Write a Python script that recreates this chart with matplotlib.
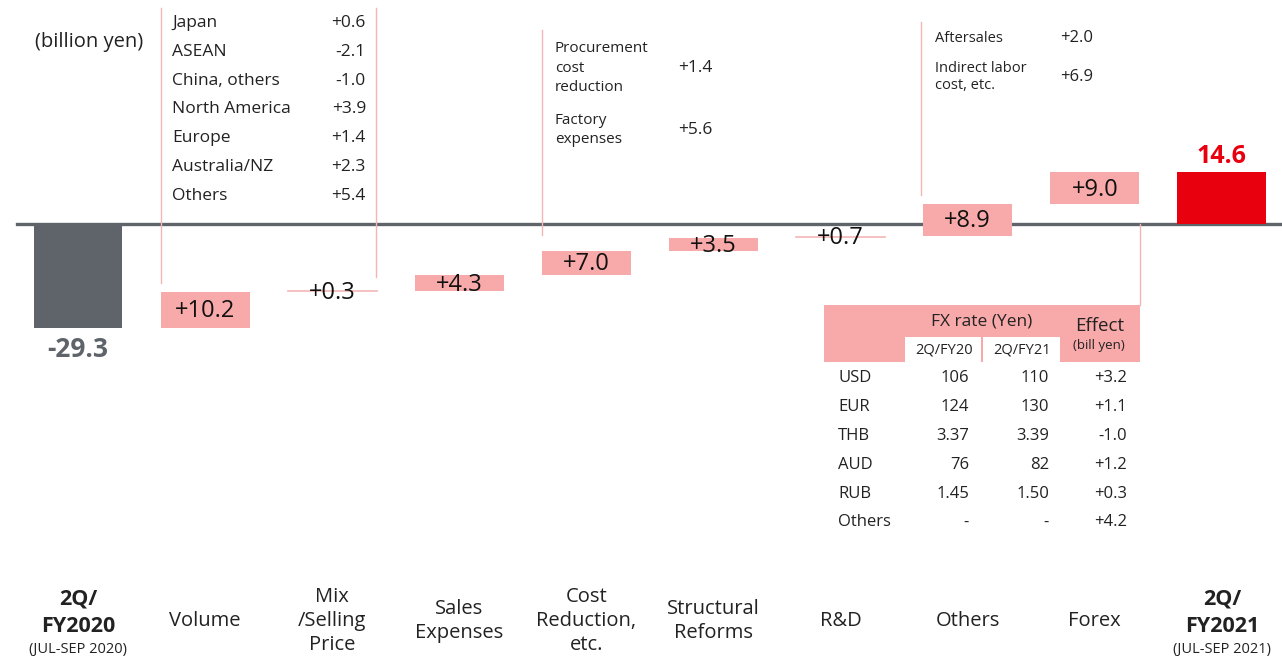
"""
Operating profit variance waterfall, 2Q/FY2020 -> 2Q/FY2021.
"""

import matplotlib
matplotlib.use("Agg")
import matplotlib.pyplot as plt
import numpy as np

plt.rcParams["font.family"] = ["Open Sans", "DejaVu Sans"]

# --- Data (billion yen) ---
START_VALUE = -29.3
END_VALUE = 14.6
STEP_NAMES = ["Volume", "Mix\n/Selling\nPrice", "Sales\nExpenses", "Cost\nReduction,\netc.",
              "Structural\nReforms", "R&D", "Others", "Forex"]
STEP_VALUES = [10.2, 0.3, 4.3, 7.0, 3.5, 0.7, 8.9, 9.0]

VOLUME_REGIONS = ["Japan", "ASEAN", "China, others", "North America", "Europe", "Australia/NZ", "Others"]
VOLUME_EFFECTS = ["+0.6", "-2.1", "-1.0", "+3.9", "+1.4", "+2.3", "+5.4"]

COST_ITEMS = ["Procurement\ncost\nreduction", "Factory\nexpenses"]
COST_EFFECTS = ["+1.4", "+5.6"]

OTHER_ITEMS = ["Aftersales", "Indirect labor\ncost, etc."]
OTHER_EFFECTS = ["+2.0", "+6.9"]

FX_CURRENCIES = ["USD", "EUR", "THB", "AUD", "RUB", "Others"]
FX_FY20 = ["106", "124", "3.37", "76", "1.45", "-"]
FX_FY21 = ["110", "130", "3.39", "82", "1.50", "-"]
FX_EFFECT = ["+3.2", "+1.1", "-1.0", "+1.2", "+0.3", "+4.2"]

# --- Style ---
W, H = 1282, 657
GRAY = "#5f646b"
PINK = "#f8a9a9"
LINE_PINK = "#f5b5b5"
RED = "#e8000f"
TXT = "#222222"

fig = plt.figure(figsize=(W / 100, H / 100), dpi=100)
ax = fig.add_axes([0, 0, 1, 1])
ax.set_axis_off()

# pixel layout: category i centred at 78 + 127.1*i px, zero at 224 px, 3.55 px per unit
PX_STEP, PX_X0, PX_Y0, PX_UNIT = 127.1, 78, 224, 3.55
ax.set_xlim(-PX_X0 / PX_STEP, (W - PX_X0) / PX_STEP)
ax.set_ylim(-(H - PX_Y0) / PX_UNIT, PX_Y0 / PX_UNIT)


def ftext(x, y, s, **kw):
    """Text at pixel position measured from the top-left corner."""
    kw.setdefault("color", TXT)
    return fig.text(x / W, 1 - y / H, s, **kw)


n = len(STEP_VALUES)
xs = np.arange(n + 2)
bw = 0.7

# zero line
ax.plot([ax.get_xlim()[0] + 17 / PX_STEP, ax.get_xlim()[1]], [0, 0], color=GRAY, lw=2.4, zorder=1)

# start / end bars
ax.bar(xs[0], START_VALUE, width=bw, color=GRAY, zorder=2)
ax.bar(xs[-1], END_VALUE, width=bw, color=RED, zorder=2)
ax.text(xs[0], START_VALUE - 2.2, f"{START_VALUE:.1f}", ha="center", va="top",
        fontsize=19, fontweight="bold", color=GRAY)
ax.text(xs[-1], END_VALUE + 1.0, f"{END_VALUE:.1f}", ha="center", va="bottom",
        fontsize=18, fontweight="bold", color=RED)

# floating steps
bottoms = START_VALUE + np.concatenate([[0], np.cumsum(STEP_VALUES)[:-1]])
for i, (b, v) in enumerate(zip(bottoms, STEP_VALUES)):
    x = xs[i + 1]
    if v < 1:
        ax.plot([x - bw / 2, x + bw / 2], [b + v / 2] * 2, color=LINE_PINK, lw=1.2, zorder=2)
    else:
        ax.bar(x, v, bottom=b, width=bw, color=PINK, zorder=2)
    ax.text(x, b + v / 2 - 0.4, f"+{v:.1f}", ha="center", va="center", fontsize=17,
            color="#111111", zorder=3)

# category labels
for cx, yr in [(78, "2020"), (1222, "2021")]:
    ftext(cx, 599, "2Q/", ha="center", va="center", fontsize=15.5, fontweight="bold")
    ftext(cx, 626, f"FY{yr}", ha="center", va="center", fontsize=15.5, fontweight="bold")
    ftext(cx, 649, f"(JUL-SEP {yr})", ha="center", va="center", fontsize=10.5)
for i, name in enumerate(STEP_NAMES):
    ftext(PX_X0 + PX_STEP * (i + 1), 621, name, ha="center", va="center",
          fontsize=14.5, linespacing=1.3)

ftext(35, 42, "(billion yen)", ha="left", va="center", fontsize=14.5)

# pink guide lines (pixel coords)
guides = [(161, 8, 161, 283), (376, 8, 376, 277), (542, 30, 542, 235),
          (921, 22, 921, 195), (1140, 224, 1140, 305)]
for x0, y0, x1, y1 in guides:
    fig.add_artist(plt.Line2D([x0 / W, x1 / W], [1 - y0 / H, 1 - y1 / H],
                              color=LINE_PINK, lw=1.0))

# volume breakdown
for k, (r, e) in enumerate(zip(VOLUME_REGIONS, VOLUME_EFFECTS)):
    y = 23 + 28.8 * k
    ftext(172, y, r, ha="left", va="center", fontsize=12.5)
    ftext(366, y, e, ha="right", va="center", fontsize=12.5)

# cost reduction breakdown
for item, e, y in zip(COST_ITEMS, COST_EFFECTS, [68, 130]):
    ftext(555, y, item, ha="left", va="center", fontsize=11, linespacing=1.45)
    ftext(678, y, e, ha="left", va="center", fontsize=12.5)

# others breakdown
for item, e, y in zip(OTHER_ITEMS, OTHER_EFFECTS, [38, 77]):
    ftext(935, y, item, ha="left", va="center", fontsize=10.5, linespacing=1.2)
    ftext(1060, y, e, ha="left", va="center", fontsize=12)

# FX table
fig.add_artist(plt.Rectangle((824 / W, 1 - 362 / H), 316 / W, 57 / H, color=PINK, lw=0))
fig.add_artist(plt.Rectangle((905 / W, 1 - 362 / H), 76 / W, 25 / H, color="white", lw=0))
fig.add_artist(plt.Rectangle((983 / W, 1 - 362 / H), 77 / W, 25 / H, color="white", lw=0))
ftext(982, 322, "FX rate (Yen)", ha="center", va="center", fontsize=12.5)
ftext(944, 350, "2Q/FY20", ha="center", va="center", fontsize=10.5)
ftext(1022, 350, "2Q/FY21", ha="center", va="center", fontsize=10.5)
ftext(1100, 326, "Effect", ha="center", va="center", fontsize=13.5)
ftext(1099, 346, "(bill yen)", ha="center", va="center", fontsize=9.5)
for k, cur in enumerate(FX_CURRENCIES):
    y = 378 + 28.9 * k
    ftext(838, y, cur, ha="left", va="center", fontsize=12)
    ftext(969, y, FX_FY20[k], ha="right", va="center", fontsize=12)
    ftext(1049, y, FX_FY21[k], ha="right", va="center", fontsize=12)
    ftext(1127, y, FX_EFFECT[k], ha="right", va="center", fontsize=12)

fig.savefig("out.png", dpi=100)
